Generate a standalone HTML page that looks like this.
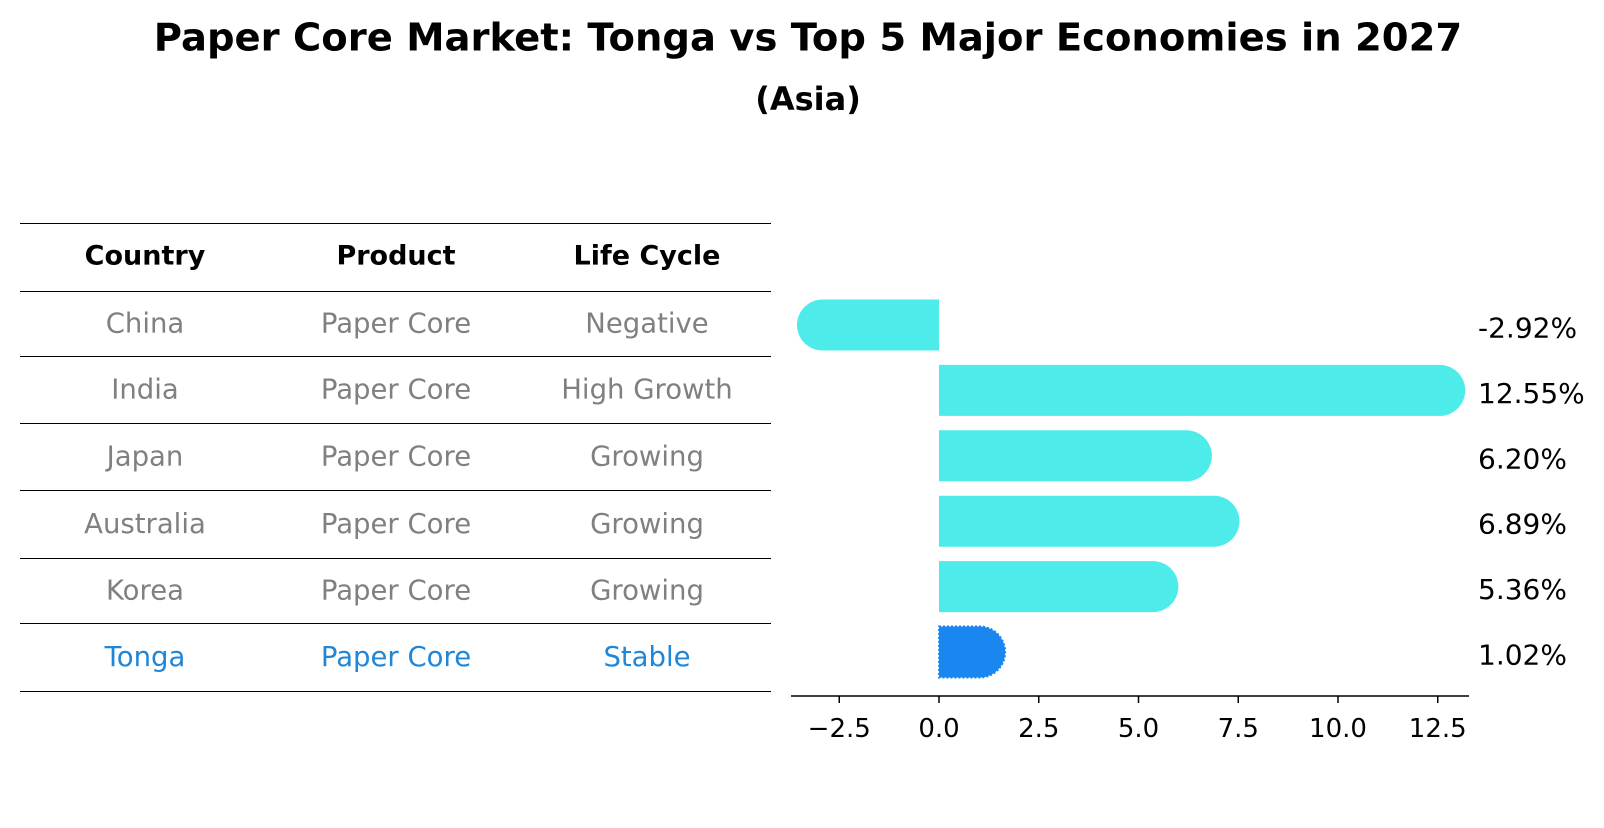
<!DOCTYPE html>
<html><head><meta charset="utf-8"><style>
body{margin:0;background:#fff;width:1604px;height:823px;overflow:hidden;font-family:"Liberation Sans","DejaVu Sans",sans-serif}
</style></head><body>
<svg width="1604" height="823" xmlns="http://www.w3.org/2000/svg" font-family="'DejaVu Sans','Liberation Sans',sans-serif">
<text x="808" y="38" text-anchor="middle" dominant-baseline="central" font-size="38.5" font-weight="bold">Paper Core Market: Tonga vs Top 5 Major Economies in 2027</text>
<text x="808" y="99" text-anchor="middle" dominant-baseline="central" font-size="32" font-weight="bold">(Asia)</text>
<g id="table"></g>
<g id="bars"></g>
</svg>
<script>
const countries=["China","India","Japan","Australia","Korea","Tonga"];
const lifeCycle=["Negative","High Growth","Growing","Growing","Growing","Stable"];
const growth=[-2.92,12.55,6.20,6.89,5.36,1.02];
const ticks=[-2.5,0.0,2.5,5.0,7.5,10.0,12.5];
const NS="http://www.w3.org/2000/svg";
function mk(tag,attrs,parent,txt){const e=document.createElementNS(NS,tag);for(const k in attrs)e.setAttribute(k,attrs[k]);if(txt!==undefined)e.textContent=txt;parent.appendChild(e);return e;}
const tbl=document.getElementById('table');
const lineYs=[223,291,356,423,490,558,623,691];
const colX=[145,396,647];
lineYs.forEach((y,i)=>{const l=mk('line',{x1:20,x2:771,y1:y+0.5,y2:y+0.5,stroke:'#000','stroke-width':1},tbl);

});
["Country","Product","Life Cycle"].forEach((h,j)=>{const t=mk('text',{x:colX[j],y:256,'text-anchor':'middle','dominant-baseline':'central','font-size':27,'font-weight':'bold'},tbl,h);

});
countries.forEach((c,i)=>{const y=(lineYs[i+1]+lineYs[i+2])/2;const col=c==="Tonga"?"#1f86d8":"#808080";
[c,"Paper Core",lifeCycle[i]].forEach((v,j)=>{const t=mk('text',{x:colX[j],y:y,'text-anchor':'middle','dominant-baseline':'central','font-size':27.5,fill:col},tbl,v);

});});
const g=document.getElementById('bars');
const x0=939,ppu=39.9,rowY0=325,rowStep=65.4,r=25.5;
const X=v=>x0+v*ppu;
growth.forEach((v,i)=>{const cy=rowY0+i*rowStep;const isT=countries[i]==="Tonga";const col=isT?"#1a87f0":"#4deceb";
const xa=Math.min(X(0),X(v)),xb=Math.max(X(0),X(v));
let d;
if(v>=0){d=`M${xa},${cy-r} L${xb},${cy-r} A${r},${r} 0 0 1 ${xb},${cy+r} L${xa},${cy+r} Z`;}
else{d=`M${xb},${cy-r} L${xa},${cy-r} A${r},${r} 0 0 0 ${xa},${cy+r} L${xb},${cy+r} Z`;}
const p=mk('path',{d:d,fill:col},g);
if(isT){p.setAttribute('stroke','#1a87f0');p.setAttribute('stroke-dasharray','2,2');p.setAttribute('stroke-width','2');}


const t=mk('text',{x:1478,y:cy+3,'dominant-baseline':'central','font-size':28},g,v.toFixed(2)+'%');

});
const ax=mk('line',{x1:791,x2:1469,y1:696,y2:696,stroke:'#000','stroke-width':1.5},g);


ticks.forEach(v=>{const tk=mk('line',{x1:X(v),x2:X(v),y1:696,y2:703,stroke:'#000','stroke-width':1.5},g);


const tl=mk('text',{x:X(v),y:729,'text-anchor':'middle','dominant-baseline':'central','font-size':26},g,v.toFixed(1).replace('-','\u2212'));

});
</script>
</body></html>
